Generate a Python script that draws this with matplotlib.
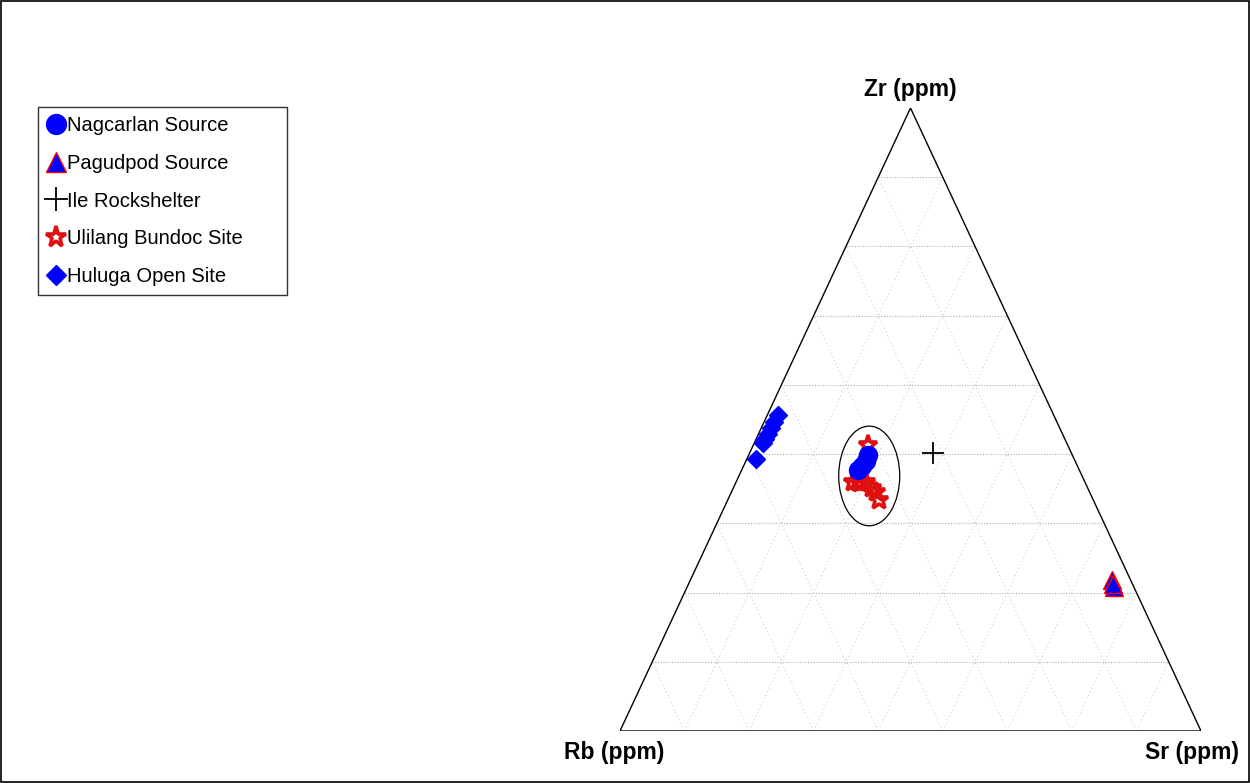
import numpy as np
import matplotlib
matplotlib.use('Agg')
import matplotlib.pyplot as plt
from matplotlib.patches import Ellipse, Rectangle

plt.rcParams['font.family'] = ['Liberation Sans', 'DejaVu Sans']

# compositions in percent: Rb, Sr, Zr
nag_rb = [35.2, 36.0, 38.1, 37.1]
nag_sr = [20.5, 20.7, 20.0, 20.4]
nag_zr = [44.3, 43.3, 41.9, 42.5]

pag_rb = [3.2, 3.4, 3.3]
pag_sr = [72.6, 73.5, 73.1]
pag_zr = [24.2, 23.1, 23.6]

ile_rb = [23.8]
ile_sr = [31.6]
ile_zr = [44.6]

uli_rb = [34.4, 39.9, 38.8, 37.7, 37.1, 36.8, 36.9, 39.0]
uli_sr = [19.7, 20.1, 21.4, 22.4, 23.9, 24.9, 26.0, 21.0]
uli_zr = [45.9, 40.0, 39.8, 39.9, 39.0, 38.3, 37.1, 40.0]

hul_rb = [47.5, 48.7, 49.7, 50.7, 51.6, 52.3, 54.8]
hul_sr = [1.8, 1.7, 1.7, 1.6, 1.5, 1.5, 1.6]
hul_zr = [50.7, 49.6, 48.6, 47.7, 46.9, 46.2, 43.6]

# ellipse around the Nagcarlan / Ulilang group (centre composition, size)
ell_rb, ell_sr, ell_zr = 36.6, 22.4, 40.9
ell_w, ell_h = 0.105, 0.16

n_grid = 9
labels = ['Rb (ppm)', 'Sr (ppm)', 'Zr (ppm)']


def tern_xy(rb, sr, zr):
    rb = np.asarray(rb, float)
    sr = np.asarray(sr, float)
    zr = np.asarray(zr, float)
    tot = rb + sr + zr
    sr = sr / tot
    zr = zr / tot
    return sr + zr / 2.0, zr


fig = plt.figure(figsize=(12.5, 7.83), dpi=100)
ax = fig.add_axes([620 / 1250, 52 / 783, 581 / 1250, 623 / 783])
ax.set_xlim(0, 1)
ax.set_ylim(0, 1)
ax.axis('off')

# grid
hkw = dict(color='#b0b0b0', lw=0.8, ls=(0, (1, 1.5)), zorder=1)
dkw = dict(color='#d0d0d0', lw=0.8, ls=(0, (1, 2.5)), zorder=1)
for k in range(1, n_grid):
    f = k / n_grid
    ax.plot([f / 2, 1 - f / 2], [f, f], **hkw)
    ax.plot([f, f / 2 + 0.5], [0, 1 - f], **dkw)
    ax.plot([f, f / 2], [0, f], **dkw)

# outline
ax.plot([0, 1, 0.5, 0], [0, 0, 1, 0], color='black', lw=1.0, zorder=2)

ex, ey = tern_xy(ell_rb, ell_sr, ell_zr)
ax.add_patch(Ellipse((float(ex), float(ey)), ell_w, ell_h, fill=False,
                     edgecolor='black', lw=0.9, zorder=3))

x, y = tern_xy(hul_rb, hul_sr, hul_zr)
ax.plot(x, y, 'D', ms=9.5, color='blue', mec='blue', ls='none', zorder=4,
        label='Huluga Open Site')
x, y = tern_xy(uli_rb, uli_sr, uli_zr)
ax.plot(x, y, '*', ms=14, mfc='none', mec='#e01010', mew=2.6, ls='none', zorder=4,
        label='Ulilang Bundoc Site')
x, y = tern_xy(nag_rb, nag_sr, nag_zr)
ax.plot(x, y, 'o', ms=13, color='blue', mec='blue', ls='none', zorder=5,
        label='Nagcarlan Source')
x, y = tern_xy(pag_rb, pag_sr, pag_zr)
ax.plot(x, y, '^', ms=13, mfc='blue', mec='red', mew=1.0, ls='none', zorder=5,
        label='Pagudpod Source')
x, y = tern_xy(ile_rb, ile_sr, ile_zr)
ax.plot(x, y, '+', ms=16, color='black', mew=1.3, ls='none', zorder=5,
        label='Ile Rockshelter')

# vertex labels
lkw = dict(fontsize=16.5, fontweight='bold')
ax.text(0.5, 1.029, labels[2], ha='center', va='center', **lkw)
ax.text(-0.01, -0.035, labels[0], ha='center', va='center', **lkw)
ax.text(0.9845, -0.035, labels[1], ha='center', va='center', **lkw)

h, l = ax.get_legend_handles_labels()
order = ['Nagcarlan Source', 'Pagudpod Source', 'Ile Rockshelter',
         'Ulilang Bundoc Site', 'Huluga Open Site']
hh = [h[l.index(o)] for o in order]
leg = fig.legend(hh, order, loc='upper left',
                 bbox_to_anchor=(38 / 1250, (783 - 292) / 783, 249 / 1250, 185 / 783),
                 mode='expand', fontsize=14.5, frameon=True, fancybox=False,
                 edgecolor='black', handlelength=0.9, handletextpad=0.1,
                 borderpad=0.45, labelspacing=0.93, borderaxespad=0,
                 markerscale=1.1)
leg.get_frame().set_linewidth(1.0)

# figure border
fig.patches.append(Rectangle((0.0005, 0.0008), 0.999, 0.9985, transform=fig.transFigure,
                             fill=False, edgecolor='black', lw=1.2))

fig.savefig('out.png', dpi=100)
